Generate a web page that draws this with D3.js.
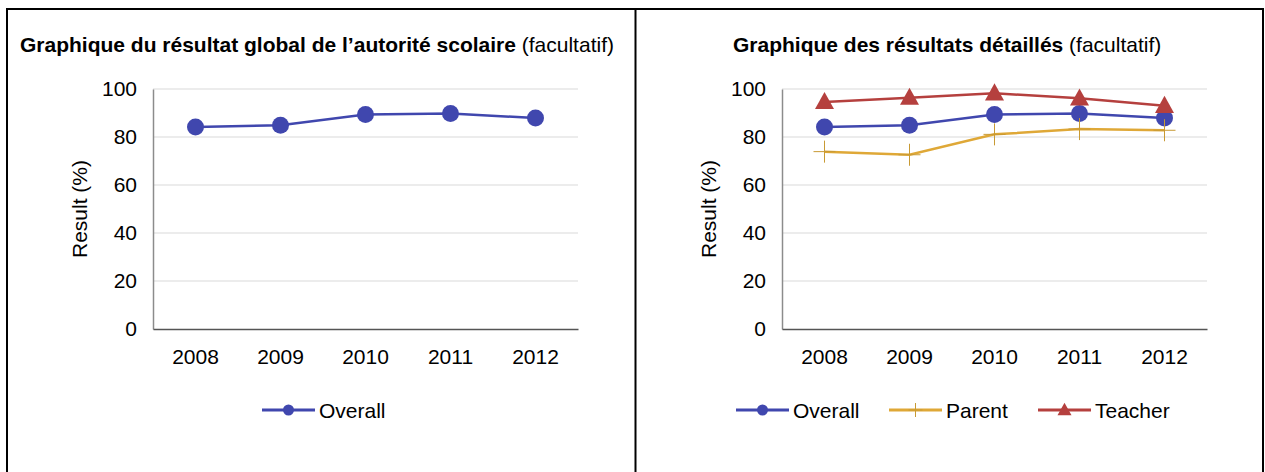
<!DOCTYPE html>
<html><head><meta charset="utf-8">
<script src="https://cdn.jsdelivr.net/npm/d3@7/dist/d3.min.js"></script>
<style>
body{margin:0;background:#fff;}
svg{display:block;font-family:"Liberation Sans",Arial,sans-serif;}
</style></head>
<body><svg id="c" width="1265" height="472"></svg>
<script>
const years = ["2008","2009","2010","2011","2012"];
const overall = [84.2, 84.9, 89.4, 89.8, 87.9];
const parent = [73.9, 72.6, 81.1, 83.3, 82.8];
const teacher = [94.6, 96.4, 98.2, 96.1, 93.0];
const yTicks = [0, 20, 40, 60, 80, 100];
const leftTitleBold = "Graphique du résultat global de l’autorité scolaire";
const rightTitleBold = "Graphique des résultats détaillés";
const titleNormal = " (facultatif)";
const yLabel = "Result (%)";

const colors = {Overall:"#4047AE", Parent:"#DFA837", Teacher:"#B5403E"};
const FS = 21;

const svg = d3.select("#c");
// panel borders
svg.append("rect").attr("x",7).attr("y",9).attr("width",1256).attr("height",480)
  .attr("fill","none").attr("stroke","#000").attr("stroke-width",2);
svg.append("line").attr("x1",635.5).attr("x2",635.5).attr("y1",9).attr("y2",472)
  .attr("stroke","#000").attr("stroke-width",2);

function panel(x0, titleX, titleBold, series, legendX) {
  const g = svg.append("g");
  const t = g.append("text").attr("x", titleX).attr("y", 52).attr("font-size", 21).attr("fill","#000");
  t.append("tspan").attr("font-weight","bold").text(titleBold);
  t.append("tspan").text(titleNormal);

  const x = d3.scaleBand().domain(years).range([x0, x0 + 425]);
  const y = d3.scaleLinear().domain([0, 100]).range([329, 89]);

  // gridlines
  g.selectAll(".grid").data(yTicks.filter(d => d > 0)).join("line")
    .attr("x1", x0).attr("x2", x0 + 425)
    .attr("y1", d => y(d)).attr("y2", d => y(d))
    .attr("stroke", "#d9d9d9").attr("stroke-width", 1);

  // y axis
  const ya = g.append("g").attr("transform", `translate(${x0},0)`)
    .call(d3.axisLeft(y).tickValues(yTicks).tickSize(0).tickPadding(16));
  ya.select(".domain").attr("stroke", "#8c8c8c").attr("stroke-width", 1.5);
  ya.selectAll("text").attr("font-size", FS).attr("fill", "#000").attr("font-family","Liberation Sans, Arial, sans-serif");

  // x axis
  const xa = g.append("g").attr("transform", "translate(0,329)")
    .call(d3.axisBottom(x).tickSize(0).tickPadding(20));
  xa.select(".domain").attr("stroke", "#555").attr("stroke-width", 1.5);
  xa.selectAll("text").attr("font-size", FS).attr("fill", "#000").attr("font-family","Liberation Sans, Arial, sans-serif");

  g.append("text").attr("transform", `translate(${x0 - 66},209) rotate(-90)`)
    .attr("text-anchor", "middle").attr("font-size", FS).attr("fill", "#000").text(yLabel);

  const cx = d => x(d) + x.bandwidth() / 2;
  const line = d3.line().x((d, i) => cx(years[i])).y(d => y(d));

  series.forEach(s => {
    const c = colors[s.name];
    g.append("path").datum(s.values).attr("d", line)
      .attr("fill", "none").attr("stroke", c).attr("stroke-width", 2.5);
    s.values.forEach((v, i) => drawMarker(g, s.name, cx(years[i]), y(v), false));
  });

  // legend
  let lx = legendX;
  series.forEach(s => {
    const c = colors[s.name];
    g.append("line").attr("x1", lx).attr("x2", lx + 53).attr("y1", 410).attr("y2", 410)
      .attr("stroke", c).attr("stroke-width", 3);
    drawMarker(g, s.name, lx + 26.5, 410, true);
    g.append("text").attr("x", lx + 57).attr("y", 418).attr("font-size", FS).attr("fill", "#000").text(s.name);
    lx += s.name === "Overall" ? 153 : 149;
  });
}

function drawMarker(g, name, x, y, small) {
  const c = colors[name];
  if (name === "Overall") {
    g.append("circle").attr("cx", x).attr("cy", y).attr("r", small ? 5.5 : 8.5).attr("fill", c);
  } else if (name === "Teacher") {
    const s = small ? 7 : 9.5;
    g.append("path").attr("d", `M${x},${y - s * 1.05}L${x + s},${y + s * 0.75}L${x - s},${y + s * 0.75}Z`).attr("fill", c);
  } else {
    const s = small ? 7 : 11;
    g.append("path").attr("d", `M${x - s},${y}H${x + s}M${x},${y - s}V${y + s}`)
      .attr("stroke", "#C89A34").attr("stroke-width", 1);
  }
}

panel(153, 20, leftTitleBold, [{name: "Overall", values: overall}], 262);
panel(782, 733, rightTitleBold, [
  {name: "Overall", values: overall},
  {name: "Parent", values: parent},
  {name: "Teacher", values: teacher}
], 736);
</script></body></html>
